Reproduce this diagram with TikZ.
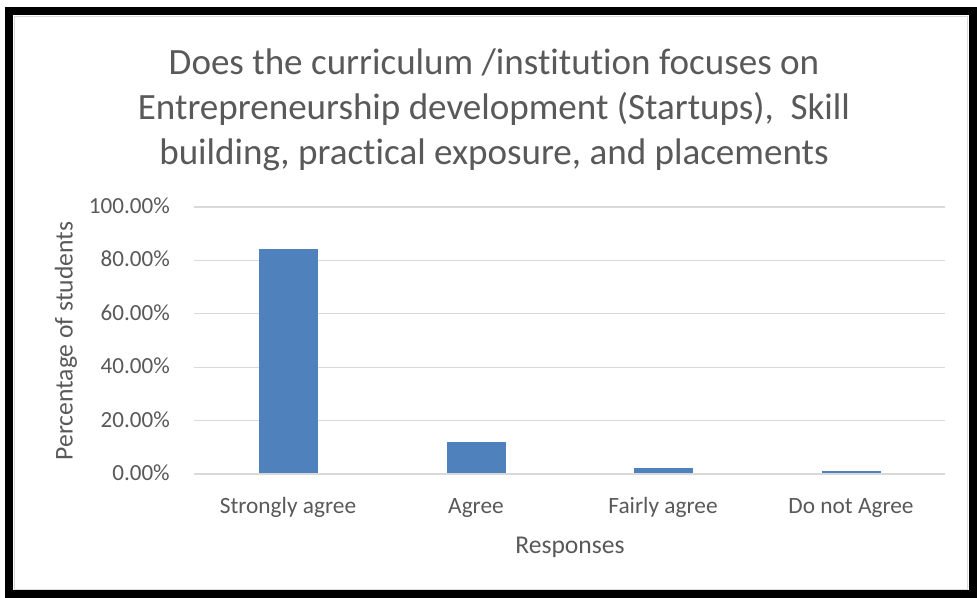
\documentclass[tikz,border=0pt]{standalone}
\usepackage{fontspec}
\setmainfont[Ligatures=NoCommon]{Carlito}
\definecolor{barblue}{HTML}{4F81BD}
\definecolor{txtgray}{HTML}{595959}
\definecolor{gridgray}{HTML}{D9D9D9}
\begin{document}
\begin{tikzpicture}[x=0.75pt,y=-0.75pt,
        tick/.style={anchor=base east,text=txtgray,inner sep=0pt,font=\fontsize{17.3}{20}\selectfont},
        catlabel/.style={anchor=base,text=txtgray,inner sep=0pt,font=\fontsize{17.5}{21}\selectfont},
        axtitle/.style={text=txtgray,inner sep=0pt,font=\fontsize{19.2}{23}\selectfont}]
        \useasboundingbox (0,0) rectangle (977,597);
        \fill[white] (0,0) rectangle (977,597);
        \draw[gridgray,line width=0.75pt] (14,16) rectangle (967,589);
        \draw[line width=6pt] (9,11) rectangle (972.5,593.5);
        
        \node[text=txtgray,align=center,inner sep=0pt,font=\fontsize{27.8}{33.75}\selectfont] (title) at (494,110)
            {Does the curriculum /institution focuses on\\Entrepreneurship development (Startups),\ \ Skill\\building, practical exposure, and placements};
        
        \foreach \v in {20,40,...,100}
            \draw[gridgray,line width=1pt] (194,{474-2.67*\v}) -- (945,{474-2.67*\v});
        \foreach \v in {0,20,...,100}
            \node[tick] (tick\v) at (170,{480.5-2.67*\v}) {\v.00\%};
        
        \foreach \c/\h in {288/84.2,476/12,663/2.2,851/1.1}
            \fill[barblue] ({\c-29.5},474) rectangle ({\c+29.5},{474-2.67*\h});
        \draw[gridgray,line width=1pt] (194,474) -- (945,474);
        
        \node[catlabel] (strong) at (288,513) {Strongly agree};
        \node[catlabel] (agree) at (476,513) {Agree};
        \node[catlabel] (fairly) at (663,513) {Fairly agree};
        \node[catlabel] (notagree) at (851,513) {Do not Agree};
        
        \node[axtitle,anchor=base] (xtitle) at (570,553) {Responses};
        \node[axtitle,rotate=90] (ytitle) at (66,341) {Percentage of students};
    \end{tikzpicture}
\end{document}
